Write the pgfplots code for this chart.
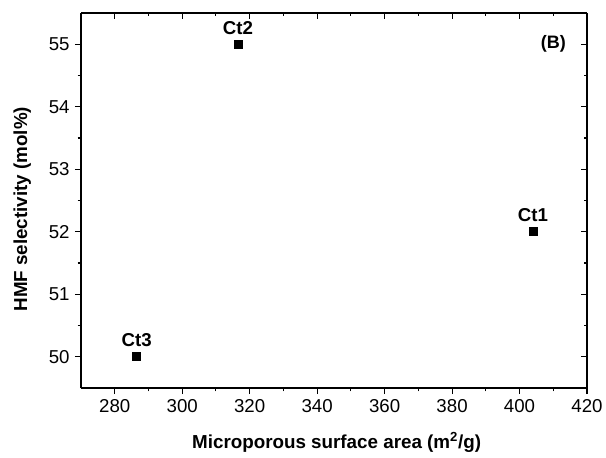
\documentclass[border=0pt]{standalone}
\usepackage{pgfplots}
\pgfplotsset{compat=1.18}
\usepackage{fontspec}
\setmainfont{Liberation Sans}
\begin{document}
\begin{tikzpicture}
\pgfplotsset{
  common/.style={
    scale only axis, width=379.5pt, height=281.25pt,
    xmin=270, xmax=420, ymin=49.5, ymax=55.5,
    xtick={280,300,...,420}, minor x tick num=1,
    ytick={50,51,...,55}, minor y tick num=1,
    major tick length=4.5pt, minor tick length=2.5pt,
    every tick/.style={black, line width=0.8pt},
    every minor tick/.style={black, line width=0.8pt},
    axis line style={line width=1pt},
    tick label style={font=\fontsize{14}{14}\selectfont},
    /pgf/number format/assume math mode=true,
  }
}
\begin{axis}[common,
  axis x line*=top, axis y line*=right, tick align=inside,
  xticklabels={}, yticklabels={}]
\end{axis}
\begin{axis}[common,
  axis x line*=bottom, axis y line*=left, tick align=outside,
  clip=false,
  xlabel={\textbf{Microporous surface area (m$^{\mathbf 2}$/g)}},
  ylabel={\textbf{HMF selectivity (mol\%)}},
  xlabel style={font=\fontsize{14.1}{14}\selectfont, at={(rel axis cs:0.5,0)}, anchor=center, xshift=2pt, yshift=-41pt},
  ylabel style={font=\fontsize{14.1}{14}\selectfont, at={(rel axis cs:0,0.5)}, anchor=center, xshift=-6.5pt, yshift=44pt},
  xticklabel style={yshift=-0.5pt},
  yticklabel style={xshift=-0.5pt},
]
\coordinate (ll) at (rel axis cs:0,0);
\coordinate (ur) at (rel axis cs:1,1);
\addplot[only marks, mark=square*, mark size=3pt, black,
  nodes near coords, point meta=explicit symbolic,
  every node near coord/.style={anchor=south, yshift=4pt, font=\bfseries\fontsize{14}{14}\selectfont, black}]
  table[meta=label] {
x y label
404 52 Ct1
316.5 55 Ct2
286.5 50 Ct3
};
\node[font=\bfseries\fontsize{13.5}{13.5}\selectfont] at (axis cs:410,55) {(B)};
\end{axis}
\pgfresetboundingbox
\path ([xshift=-60.75pt,yshift=-51.75pt]ll) rectangle ([xshift=14.25pt,yshift=9.75pt]ur);
\end{tikzpicture}
\end{document}
